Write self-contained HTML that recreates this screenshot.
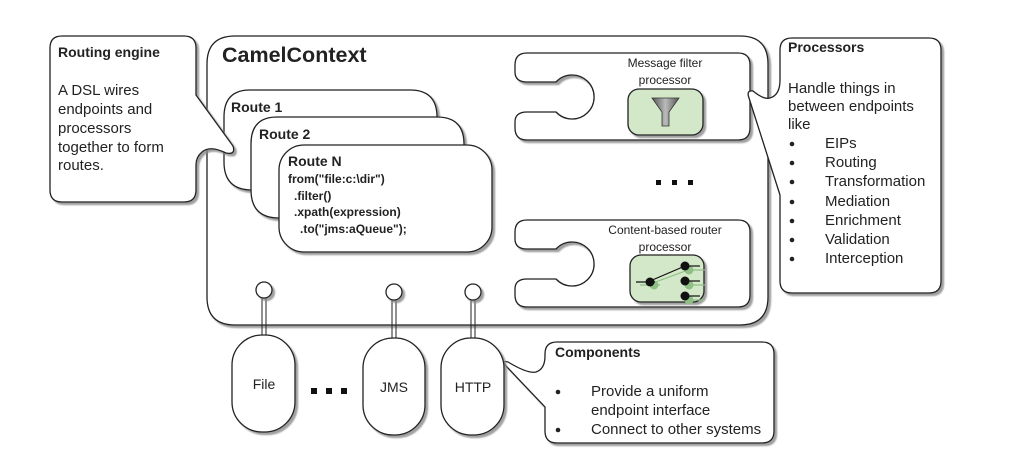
<!DOCTYPE html>
<html><head><meta charset="utf-8"><style>
html,body{margin:0;padding:0;background:#fff;}
svg{display:block;font-family:"Liberation Sans",sans-serif;}
</style></head><body>
<svg width="1015" height="472" viewBox="0 0 1015 472" xmlns="http://www.w3.org/2000/svg">
<defs>
<filter id="sh" x="-10%" y="-10%" width="130%" height="130%"><feDropShadow dx="2.5" dy="2.5" stdDeviation="0.8" flood-color="#888" flood-opacity="0.8"/></filter>
<linearGradient id="gf" x1="0" x2="1"><stop offset="0" stop-color="#555"/><stop offset="0.5" stop-color="#bbb"/><stop offset="1" stop-color="#555"/></linearGradient>
</defs>
<g fill="#fff" stroke="#222" stroke-width="1.3">
<path d="M235,36 H740 Q768,36 768,64 V297 Q768,325 740,325 H235 Q207,325 207,297 V64 Q207,36 235,36 Z" filter="url(#sh)"/>
<path d="M250,90 H410 Q437,90 437,117 V190 H252 Q224,190 224,162 V117 Q224,90 250,90 Z" filter="url(#sh)"/>
<path d="M277,117 H437 Q464,117 464,144 V218 H279 Q251,218 251,190 V144 Q251,117 277,117 Z" filter="url(#sh)"/>
<rect x="279" y="145" width="213" height="107" rx="25" filter="url(#sh)"/>
<path d="M62,36 H184 Q196,36 196,48 V95 L233,146 Q236,155 226,153 Q210,145 202,152 Q196,157 196,165 V190 Q196,202 184,202 H62 Q50,202 50,190 V48 Q50,36 62,36 Z" filter="url(#sh)"/>
<path d="M527,53 H738 Q750,53 750,65 V128 Q750,140 738,140 H527 Q515,140 515,128 V122 Q515,112 527,112 H556 A22 22 0 1 0 556,82 H527 Q515,82 515,72 V65 Q515,53 527,53 Z" filter="url(#sh)"/>
<path d="M527,220 H738 Q750,220 750,232 V295 Q750,307 738,307 H527 Q515,307 515,295 V289 Q515,279 527,279 H556 A22 22 0 1 0 556,249 H527 Q515,249 515,239 V232 Q515,220 527,220 Z" filter="url(#sh)"/>
<path d="M792,38 H929 Q941,38 941,50 V281 Q941,293 929,293 H792 Q780,293 780,281 V195 L749,98 Q746,90 753,91 Q764,100 770,98 Q780,95 780,80 V50 Q780,38 792,38 Z" filter="url(#sh)"/>
<path d="M557,342 H762 Q774,342 774,354 V431 Q774,443 762,443 H557 Q545,443 545,431 V407 L506,366 Q501,360 508,362 Q528,374 536,372 Q545,369 545,356 V354 Q545,342 557,342 Z" filter="url(#sh)"/>
<rect x="232" y="335" width="63" height="97" rx="30" filter="url(#sh)"/>
<rect x="363" y="338" width="62" height="97" rx="30" filter="url(#sh)"/>
<rect x="441" y="338" width="63" height="97" rx="30" filter="url(#sh)"/>
</g>
<g stroke="#222" stroke-width="1" fill="none">
<line x1="262" y1="297" x2="262" y2="335"/><line x1="266" y1="297" x2="266" y2="335"/>
<line x1="392" y1="299" x2="392" y2="338"/><line x1="396" y1="299" x2="396" y2="338"/>
<line x1="471" y1="299" x2="471" y2="338"/><line x1="475" y1="299" x2="475" y2="338"/>
</g>
<g fill="#fff" stroke="#222" stroke-width="1.3" filter="url(#sh)">
<circle cx="264" cy="290" r="8"/><circle cx="394" cy="292" r="8"/><circle cx="473" cy="292" r="8"/>
</g>
<rect x="628" y="89" width="75" height="46" rx="11" fill="#d3e8c8" stroke="#222" stroke-width="1.3" filter="url(#sh)"/>
<path d="M652,98 H679 L669,112 V126 H662 V112 Z" fill="url(#gf)" stroke="#333" stroke-width="0.8"/>
<rect x="630" y="255" width="74" height="47" rx="11" fill="#d3e8c8" stroke="#222" stroke-width="1.3" filter="url(#sh)"/>
<g stroke="#8fbf84" stroke-width="1.2"><line x1="640" y1="285" x2="660" y2="285"/><line x1="653" y1="283" x2="688" y2="270"/><line x1="688" y1="270" x2="705" y2="270"/><line x1="688" y1="285" x2="705" y2="285"/><line x1="688" y1="300" x2="705" y2="300"/></g>
<g fill="#8fbf84"><circle cx="654" cy="285" r="4.5"/><circle cx="689" cy="270" r="4.5"/><circle cx="689" cy="285" r="4.5"/><circle cx="689" cy="300" r="4.5"/></g>
<g stroke="#111" stroke-width="1.2"><line x1="636" y1="282" x2="655" y2="282"/><line x1="650" y1="281" x2="685" y2="266"/><line x1="685" y1="266" x2="700" y2="266"/><line x1="685" y1="281" x2="700" y2="281"/><line x1="685" y1="296" x2="700" y2="296"/></g>
<g fill="#111"><circle cx="650" cy="282" r="4.5"/><circle cx="685" cy="266" r="4.5"/><circle cx="685" cy="281" r="4.5"/><circle cx="685" cy="296" r="4.5"/></g>
<g fill="#111"><rect x="656" y="180" width="5" height="5"/><rect x="672" y="180" width="5" height="5"/><rect x="688" y="180" width="5" height="5"/>
<rect x="311" y="388" width="6" height="6"/><rect x="326" y="388" width="6" height="6"/><rect x="341" y="388" width="6" height="6"/></g>
<g fill="#222">
<text x="222" y="62" font-size="21.5" font-weight="bold">CamelContext</text>
<text x="58" y="57" font-size="14" font-weight="bold">Routing engine</text>
<g font-size="15"><text x="58" y="95">A DSL wires</text><text x="58" y="114">endpoints and</text><text x="58" y="133">processors</text><text x="58" y="152">together to form</text><text x="58" y="170">routes.</text></g>
<text x="231" y="112" font-size="14" font-weight="bold">Route 1</text>
<text x="259" y="139" font-size="14" font-weight="bold">Route 2</text>
<text x="288" y="166" font-size="14" font-weight="bold">Route N</text>
<g font-size="12" font-weight="bold"><text x="288" y="183">from("file:c:\dir")</text><text x="294" y="200">.filter()</text><text x="294" y="216">.xpath(expression)</text><text x="300" y="233">.to("jms:aQueue");</text></g>
<g font-size="12" text-anchor="middle"><text x="665" y="67">Message filter</text><text x="665" y="84">processor</text><text x="665" y="234">Content-based router</text><text x="665" y="251">processor</text></g>
<text x="788" y="52" font-size="14" font-weight="bold">Processors</text>
<g font-size="15"><text x="788" y="93">Handle things in</text><text x="788" y="111">between endpoints</text><text x="788" y="129">like</text>
<text x="825" y="148">EIPs</text><text x="825" y="167">Routing</text><text x="825" y="186">Transformation</text><text x="825" y="206">Mediation</text><text x="825" y="225">Enrichment</text><text x="825" y="244">Validation</text><text x="825" y="263">Interception</text></g>
<g><circle cx="792" cy="144" r="2.3"/><circle cx="792" cy="163" r="2.3"/><circle cx="792" cy="182" r="2.3"/><circle cx="792" cy="202" r="2.3"/><circle cx="792" cy="221" r="2.3"/><circle cx="792" cy="240" r="2.3"/><circle cx="792" cy="259" r="2.3"/></g>
<text x="555" y="357" font-size="14" font-weight="bold">Components</text>
<g font-size="15"><text x="591" y="396">Provide a uniform</text><text x="591" y="415">endpoint interface</text><text x="591" y="434">Connect to other systems</text></g>
<circle cx="558" cy="392" r="2.3"/><circle cx="558" cy="430" r="2.3"/>
<g font-size="14" text-anchor="middle"><text x="264" y="389">File</text><text x="394" y="392">JMS</text><text x="473" y="392">HTTP</text></g>
</g>
</svg>
</body></html>
